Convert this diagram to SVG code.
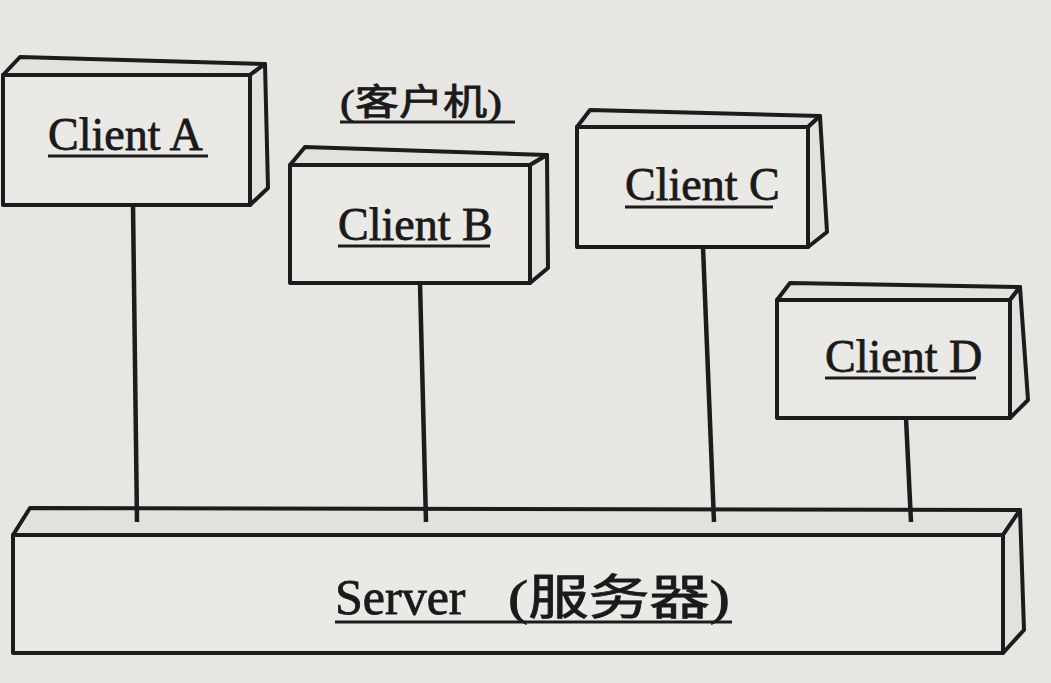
<svg xmlns="http://www.w3.org/2000/svg" width="1051" height="683" viewBox="0 0 1051 683">
<style>
.bg{fill:#e7e6e3}
.face{fill:#eae9e6;stroke:#1c1c1c;stroke-width:4;stroke-linejoin:round}
.side{fill:#e2e1de;stroke:#1c1c1c;stroke-width:4;stroke-linejoin:round}
.lbl{font-family:"Liberation Serif","Noto Sans CJK SC",serif;fill:#1a1a1a;stroke:#1a1a1a;stroke-width:0.8}
.ul{stroke:#1c1c1c;stroke-width:3}
.conn{stroke:#1c1c1c;stroke-width:4.5;fill:none}
</style>
<rect class="bg" x="0" y="0" width="1051" height="683"/>
<g id="server">
<polygon class="side" points="13,535 30,508 1020,510 1003,535"/>
<polygon class="side" points="1003,535 1020,510 1024,630 1003,653"/>
<rect class="face" x="13" y="535" width="990" height="118"/>
<text class="lbl" x="335" y="614" font-size="50">Server</text>
<text class="lbl" x="508" y="614" font-size="48" textLength="222" lengthAdjust="spacingAndGlyphs">(服务器)</text>
<line class="ul" x1="335" y1="622" x2="732" y2="622"/>
</g>
<g id="connectors">
<line class="conn" x1="133" y1="205" x2="137" y2="522"/>
<line class="conn" x1="420" y1="283" x2="426" y2="522"/>
<line class="conn" x1="703" y1="247" x2="714" y2="522"/>
<line class="conn" x1="906" y1="418" x2="911" y2="522"/>
</g>
<g id="clientA">
<polygon class="side" points="3,75 20,57 265,64 250,75"/>
<polygon class="side" points="250,75 265,64 268,188 250,205"/>
<rect class="face" x="3" y="75" width="247" height="130"/>
<text class="lbl" x="48" y="150" font-size="46">Client A</text>
<line class="ul" x1="48" y1="156" x2="208" y2="156"/>
</g>
<g id="clientB">
<polygon class="side" points="290,165 305,147 547,155 530,165"/>
<polygon class="side" points="530,165 547,155 548,268 530,283"/>
<rect class="face" x="290" y="165" width="240" height="118"/>
<text class="lbl" x="338" y="240" font-size="46">Client B</text>
<line class="ul" x1="338" y1="246" x2="490" y2="246"/>
</g>
<g id="clientB-label">
<text class="lbl" x="340" y="115" font-size="36" textLength="162" lengthAdjust="spacingAndGlyphs">(客户机)</text>
<line class="ul" x1="340" y1="122" x2="515" y2="122"/>
</g>
<g id="clientC">
<polygon class="side" points="577,127 590,110 820,116 808,127"/>
<polygon class="side" points="808,127 820,116 827,232 808,247"/>
<rect class="face" x="577" y="127" width="231" height="120"/>
<text class="lbl" x="625" y="200" font-size="46">Client C</text>
<line class="ul" x1="625" y1="207" x2="773" y2="207"/>
</g>
<g id="clientD">
<polygon class="side" points="777,300 790,283 1020,287 1010,300"/>
<polygon class="side" points="1010,300 1020,287 1028,400 1010,418"/>
<rect class="face" x="777" y="300" width="233" height="118"/>
<text class="lbl" x="825" y="372" font-size="46">Client D</text>
<line class="ul" x1="825" y1="378" x2="976" y2="378"/>
</g>
</svg>
